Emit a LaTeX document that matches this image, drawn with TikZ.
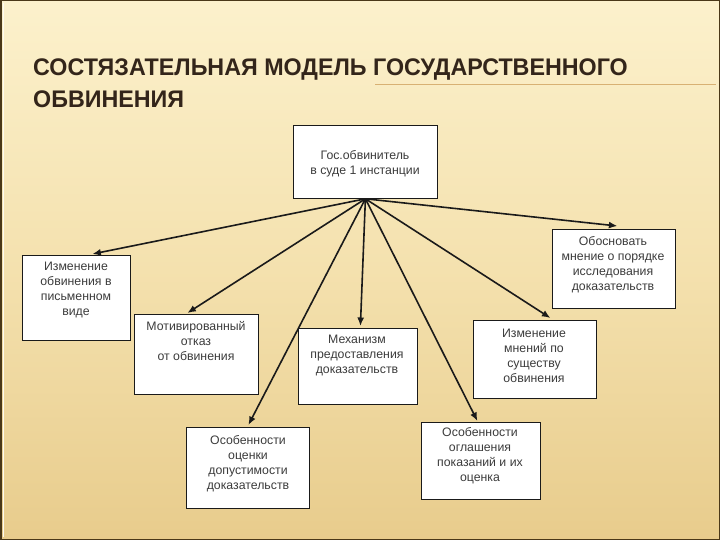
\documentclass[tikz,border=0pt]{standalone}
\usepackage{fontspec}
\setmainfont{Liberation Sans}
\usetikzlibrary{arrows.meta,calc}
\definecolor{bgtop}{HTML}{FCF1CC}
\definecolor{bgmid}{HTML}{F4E1AE}
\definecolor{bgbot}{HTML}{E8CC8C}
\definecolor{framec}{HTML}{4A3818}
\definecolor{titlec}{HTML}{33251A}
\definecolor{rulec}{HTML}{D8B173}
\definecolor{inkc}{HTML}{1A1A1A}
\begin{document}
\begin{tikzpicture}[x=1pt,y=-1pt,
  box/.style={draw=inkc,line width=0.8pt,fill=white,inner sep=0pt,anchor=north west},
  txt/.style={align=center,font=\fontsize{12.3}{15}\selectfont,text=inkc!85,inner sep=0pt},
  arr/.style={draw=inkc,line width=1.6pt,-{Latex[length=8.5pt,width=7pt]}},
  ttl/.style={anchor=base west,inner sep=0pt,text=titlec,xscale=0.97,font=\fontsize{24}{28}\selectfont\bfseries}]
\useasboundingbox (0,0) rectangle (720,540);
% background
\shade[top color=bgtop,bottom color=bgbot,middle color=bgmid] (0,0) rectangle (720,540);
\draw[framec,line width=1.5pt] (0.75,0.75) rectangle (719.25,539.25);
\draw[white!70!bgtop,line width=0.6pt] (3.5,3.5) -- (3.5,536.5);
% title
\node[ttl] (t1) at (33,76) {СОСТЯЗАТЕЛЬНАЯ МОДЕЛЬ ГОСУДАРСТВЕННОГО};
\node[ttl] (t2) at (33,108) {ОБВИНЕНИЯ};
\draw[rulec,line width=0.8pt] (375,84) -- (716,84);
% boxes
\node[box,minimum width=144,minimum height=73] (top) at (293,125) {};
\node[box,minimum width=108,minimum height=85] (b1) at (22,255) {};
\node[box,minimum width=124,minimum height=80] (b2) at (134,314) {};
\node[box,minimum width=123,minimum height=81] (b3) at (186,427) {};
\node[box,minimum width=119,minimum height=76] (b4) at (298,328) {};
\node[box,minimum width=119,minimum height=77] (b5) at (421,422) {};
\node[box,minimum width=123,minimum height=78] (b6) at (473,320) {};
\node[box,minimum width=123,minimum height=79] (b7) at (552,229) {};
% texts
\node[txt] (l0) at (365,164) {Гос.обвинитель\\в суде 1 инстанции};
\node[txt] (l1) at (76,290) {Изменение\\обвинения в\\письменном\\виде};
\node[txt] (l2) at (196,341) {Мотивированный\\отказ\\от обвинения};
\node[txt] (l3) at (248,464) {Особенности\\оценки\\допустимости\\доказательств};
\node[txt] (l4) at (357,355) {Механизм\\предоставления\\доказательств};
\node[txt] (l5) at (480,456) {Особенности\\оглашения\\показаний и их\\оценка};
\node[txt] (l6) at (534,356) {Изменение\\мнений по\\существу\\обвинения};
\node[txt] (l7) at (613,265) {Обосновать\\мнение о порядке\\исследования\\доказательств};
% connectors
\coordinate (o) at (top.south);
\draw[arr] (o) -- ([xshift=16pt,yshift=1pt]b1.north);
\draw[arr] (o) -- ([xshift=-9pt,yshift=1pt]b2.north);
\draw[arr] (o) -- ([xshift=0.5pt,yshift=2pt]b3.north);
\draw[arr] (o) -- ([xshift=2.5pt,yshift=2pt]b4.north);
\draw[arr] (o) -- ([xshift=-3.5pt,yshift=1pt]b5.north);
\draw[arr] (o) -- ([xshift=15.5pt,yshift=2pt]b6.north);
\draw[arr] (o) -- ([xshift=3.5pt,yshift=3pt]b7.north);
\end{tikzpicture}
\end{document}
